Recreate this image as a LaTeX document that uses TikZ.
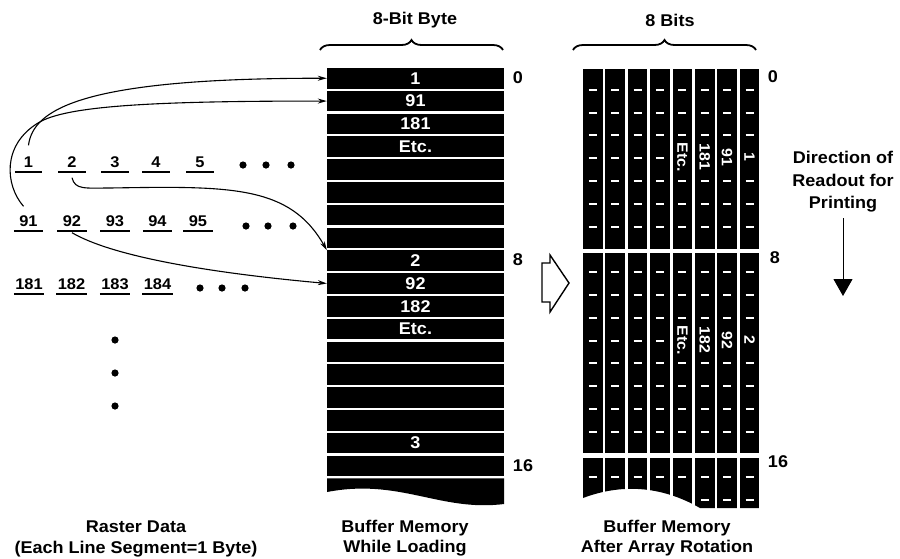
\documentclass[tikz,border=0pt]{standalone}
\usepackage{fontspec}
\setmainfont{Liberation Sans}[FakeStretch=1.06]
\usetikzlibrary{arrows.meta,decorations.pathreplacing}
\begin{document}
\begin{tikzpicture}[x=1pt,y=-1pt,
  every node/.style={inner sep=0pt},
  lab/.style={font=\bfseries\fontsize{17}{20.5}\selectfont},
  rowbox/.style={fill=black, minimum width=177pt, minimum height=20.5pt, inner sep=0pt, text=white, font=\bfseries\fontsize{17}{20}\selectfont},
  rlab/.style={font=\bfseries\fontsize{15.5}{18}\selectfont, inner xsep=0pt, inner ysep=4pt, text height=11pt, text depth=0pt},
  uline/.style={line width=1.8pt},
  link/.style={line width=1.1pt, -{Stealth[length=9pt,width=5pt]}},
  rtext/.style={rotate=-90, fill=black, text=white, inner sep=1pt, font=\bfseries\fontsize{15}{18}\selectfont},
  dashw/.style={white, line width=2pt},
  brc/.style={decorate, decoration={brace, amplitude=10pt}, line width=1.8pt},
  hollow/.style={draw=black, fill=white, line width=1.4pt, line join=miter},
]
\useasboundingbox (0,0) rectangle (900,558);

% ---------- titles and braces ----------
\node[lab] (t1) at (415,20) {8-Bit Byte};
\node[lab] (t2) at (670,20) {8 Bits};
\coordinate (b1l) at (320,50); \coordinate (b1r) at (503,50);
\coordinate (b2l) at (573,50); \coordinate (b2r) at (756,50);
\draw[brc] (b1l) -- (b1r);
\draw[brc] (b2l) -- (b2r);

% ---------- left buffer ----------
\foreach \i/\t in {0/1,1/91,2/181,3/Etc.,4/,5/,6/,7/,8/2,9/92,10/182,11/Etc.,12/,13/,14/,15/,16/3,17/}
  \node[rowbox] (L\i) at (415.5,{78.25+22.8*\i}) {\t};
\fill (327,478.4) -- (504,478.4) -- (504,504) .. controls (440,512) and (400,478) .. (327,492) -- cycle;
\node[lab] (n0) at (518,78) {0};
\node[lab] (n8) at (518,260) {8};
\node[lab] (n16) at (523,466) {16};

% ---------- right buffer ----------
\foreach \k in {0,...,7}{
  \fill (583+22.4*\k,69) rectangle ++(19.5,179.5);
  \fill (583+22.4*\k,253) rectangle ++(19.5,200);
}
\begin{scope}
  \clip (578,456) -- (765,456) -- (765,508) -- (700,508) .. controls (660,485) and (620,484) .. (583,498) -- (578,498) -- cycle;
  \foreach \k in {0,...,7}
    \fill (583+22.4*\k,458) rectangle ++(19.5,60);
\end{scope}
\foreach \k in {0,...,7}{
  \foreach \j in {1,...,7,9,10,...,16,18}
    \draw[dashw] ({583+22.4*\k+9.75-4},{67+22.8*\j}) -- ++(8,0);
}
\foreach \k in {5,6,7}
  \draw[dashw] ({583+22.4*\k+9.75-4},{67+22.8*19}) -- ++(8,0);
\foreach \k/\t/\n in {7/1/ra, 6/91/rb, 5/181/rc, 4/Etc./rd}
  \node[rtext] (\n) at ({583+22.4*\k+9.75},157) {\t};
\foreach \k/\t/\n in {7/2/sa, 6/92/sb, 5/182/sc, 4/Etc./sd}
  \node[rtext] (\n) at ({583+22.4*\k+9.75},340) {\t};
\node[lab] (m0) at (773,77) {0};
\node[lab] (m8) at (775,258) {8};
\node[lab] (m16) at (778,462) {16};

% ---------- hollow arrow ----------
\draw[hollow] (542,263) -- (550,263) -- (550,255) -- (569,283) -- (550,312) -- (550,302) -- (542,302) -- cycle;

% ---------- direction of readout ----------
\node[lab, align=center, font=\bfseries\fontsize{17}{22.5}\selectfont] (dir) at (843,182) {Direction of\\Readout for\\Printing};
\coordinate (d1) at (843,218);
\coordinate (d2) at (843,296);
\draw[line width=1pt, -{Triangle[length=17pt,width=19pt]}] (d1) -- (d2);

% ---------- raster data ----------
\foreach \x/\t/\n in {28.5/1/a1, 72/2/a2, 115/3/a3, 156/4/a4, 200/5/a5}{
  \node[rlab, minimum width=27pt] (\n) at (\x,162) {\t};
  \draw[uline] (\n.south west) -- (\n.south east);
}
\foreach \x/\t/\n in {28.5/91/b1, 72/92/b2, 115/93/b3, 157.5/94/b4, 198/95/b5}{
  \node[rlab, minimum width=29pt] (\n) at (\x,221) {\t};
  \draw[uline] (\n.south west) -- (\n.south east);
}
\foreach \x/\t/\n in {29/181/c1, 71.5/182/c2, 115/183/c3, 157.5/184/c4}{
  \node[rlab, minimum width=30pt] (\n) at (\x,284) {\t};
  \draw[uline] (\n.south west) -- (\n.south east);
}
\foreach \x in {243,266,291} \fill (\x,165) circle (3.6pt);
\foreach \x in {246,268,293} \fill (\x,226) circle (3.6pt);
\foreach \x in {200,222,245} \fill (\x,288) circle (3.6pt);
\foreach \y in {340,373,406} \fill (115,\y) circle (3.6pt);

% ---------- connectors ----------
\draw[link] ([yshift=7pt]a1.north) .. controls (33,110) and (80,78) .. (L0.west);
\draw[link] ([xshift=-5pt,yshift=5pt]b1.north) .. controls (5,185) and (2,145) .. (38,123)
   .. controls (65,106) and (150,101) .. (L1.west);
\draw[link] ([yshift=-6pt]a2.south) .. controls (75,190) and (85,188) .. (110,188)
   .. controls (230,186) and (290,185) .. (L8.north west);
\draw[link] ([yshift=-2pt]b2.south) .. controls (110,255) and (200,272) .. (L9.west);

% ---------- captions ----------
\node[lab, align=center, font=\bfseries\fontsize{17}{21}\selectfont] (cap1) at (136,539) {Raster Data\\(Each Line Segment=1 Byte)};
\node[lab, align=center, font=\bfseries\fontsize{17}{20.5}\selectfont] (cap2) at (405,538) {Buffer Memory\\While Loading};
\node[lab, align=center, font=\bfseries\fontsize{17}{20.5}\selectfont] (cap3) at (667,538) {Buffer Memory\\After Array Rotation};
\end{tikzpicture}
\end{document}
